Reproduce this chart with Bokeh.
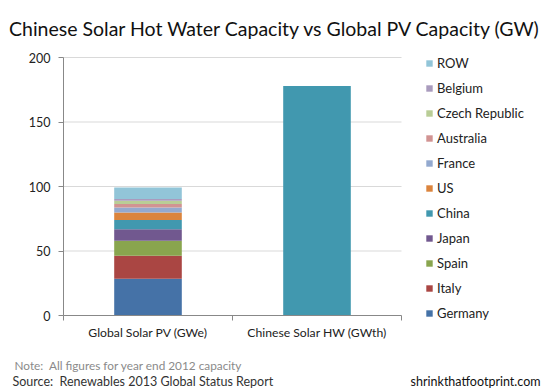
from bokeh.plotting import figure
from bokeh.models import Legend, LegendItem, Label, FixedTicker, ColumnDataSource
from bokeh.embed import file_html
from bokeh.resources import INLINE

countries = ["Germany", "Italy", "Spain", "Japan", "China", "US", "France",
             "Australia", "Czech Republic", "Belgium", "ROW"]
pv_values = [28.4, 18.0, 11.6, 8.9, 7.1, 5.9, 3.9, 2.6, 2.6, 1.3, 9.0]
colors = ["#4572A7", "#AA4643", "#89A54E", "#71588F", "#4198AF", "#DB843D",
          "#93A9CF", "#D19392", "#B9CD96", "#A99BBD", "#92C5D8"]
categories = ["Global Solar PV (GWe)", "Chinese Solar HW (GWth)"]
hw_value = 178.0
y_ticks = [0, 50, 100, 150, 200]

FONT = "Lato"
NB = "\u00a0"
W, H = 550, 390
# layout of the plotting area in page pixels
PX_LEFT, PX_RIGHT, PX_TOP, PX_BOTTOM = 63, 401, 57, 315
N_CAT = len(categories)
Y_MAX = y_ticks[-1]
kx = (PX_RIGHT - PX_LEFT) / N_CAT
ky = (PX_BOTTOM - PX_TOP) / Y_MAX


def dx(px):
    return (px - PX_LEFT) / kx


def dy(py):
    return (PX_BOTTOM - py) / ky


p = figure(width=W, height=H, x_range=(dx(0), dx(W)), y_range=(dy(H), dy(0)),
           output_backend="svg", toolbar_location=None, title=None,
           min_border=0)
p.outline_line_color = None
p.grid.visible = False

# grid lines limited to the plot area
p.segment(x0=0, x1=N_CAT, y0=y_ticks[1:], y1=y_ticks[1:], line_color="#d9d9d9",
          line_width=1)

xs = [i + 0.5 for i in range(N_CAT)]
data = {"x": [xs[0]]}
for c, v in zip(countries, pv_values):
    data[c] = [v]
src = ColumnDataSource(data)
rs = p.vbar_stack(countries, x="x", width=0.4, source=src, color=colors,
                  line_color=None)
p.vbar(x=[xs[1]], top=[hw_value], width=0.4,
       color=colors[countries.index("China")], line_color=None)

for ax in (p.xaxis, p.yaxis):
    ax.fixed_location = 0
    ax.axis_line_color = "#888888"
    ax.major_tick_line_color = "#888888"
    ax.minor_tick_line_color = "#888888"
    ax.major_label_text_font = FONT
    ax.major_label_text_color = "#222222"

p.yaxis.bounds = (0, Y_MAX)
p.yaxis.ticker = FixedTicker(ticks=y_ticks)
p.yaxis.minor_tick_line_color = None
p.yaxis.major_tick_in = 0
p.yaxis.major_tick_out = 5
p.yaxis.major_label_standoff = 8
p.yaxis.major_label_text_font_size = "12.5px"

p.xaxis.bounds = (0, N_CAT)
p.xaxis.ticker = FixedTicker(ticks=xs, minor_ticks=list(range(N_CAT + 1)))
p.xaxis.major_tick_in = 0
p.xaxis.major_tick_out = 0
p.xaxis.minor_tick_in = 0
p.xaxis.minor_tick_out = 5
p.xaxis.major_label_standoff = 4
p.xaxis.major_label_text_font_size = "12.2px"
p.xaxis.major_label_overrides = {x: c for x, c in zip(xs, categories)}

items = [LegendItem(label=c, renderers=[r]) for c, r in zip(countries, rs)][::-1]
legend = Legend(items=items, location=(425, 67), padding=0, margin=0,
                glyph_width=8, glyph_height=8, label_height=21, spacing=4,
                label_standoff=4, label_text_font=FONT,
                label_text_font_size="13px", label_text_color="#222222",
                background_fill_alpha=0, border_line_color=None)
p.add_layout(legend, "center")


def add_text(txt, px, py, size, color, align="left"):
    p.add_layout(Label(x=dx(px), y=dy(py), text=txt, text_font=FONT,
                       text_font_size=size, text_color=color,
                       text_align=align, text_baseline="alphabetic"))


add_text("Chinese Solar Hot Water Capacity vs Global PV Capacity (GW)", 275, 28,
         "19.5px", "#111111", "center")
add_text("Note:" + NB + " All figures for year end 2012 capacity", 14, 365,
         "11.8px", "#8a8a8a")
add_text("Source:" + NB + " Renewables 2013 Global Status Report", 12, 381,
         "12.5px", "#333333")
add_text("shrinkthatfootprint.com", 540, 381, "12.5px", "#111111", "right")

open("out.html", "w").write(file_html(p, INLINE))
